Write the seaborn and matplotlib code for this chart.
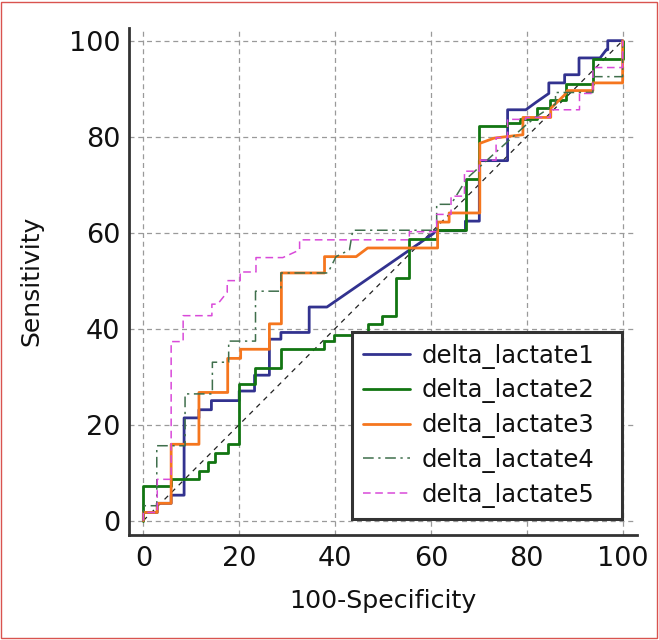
import matplotlib
matplotlib.use("Agg")
import matplotlib.pyplot as plt
from matplotlib.patches import Rectangle
from matplotlib.ticker import MultipleLocator
import seaborn as sns

# ROC step curves (vertices)
series_names = ["delta_lactate1", "delta_lactate2", "delta_lactate3",
                "delta_lactate4", "delta_lactate5"]

x1 = [0, 0, 2.9, 2.9, 5.8, 5.8, 8.5, 8.5, 11.6, 11.6, 14.2, 14.2, 20.0, 20.0, 23.2,
      23.2, 26.3, 26.3, 28.7, 28.7, 34.6, 34.6, 38.3, 60.5, 61.0, 67.2, 67.2, 70.1,
      70.1, 76.0, 76.0, 79.8, 82.0, 84.6, 84.6, 87.9, 87.9, 90.9, 90.9, 93.9, 93.9,
      95.3, 96.6, 96.9, 96.9, 100, 100]
y1 = [0, 1.7, 1.7, 3.6, 3.6, 5.3, 5.3, 21.4, 21.4, 23.1, 23.1, 25.0, 25.0, 27.0, 27.0,
      30.3, 30.3, 37.8, 37.8, 39.2, 39.2, 44.5, 44.5, 59.8, 60.4, 60.4, 62.4, 62.4,
      75.0, 75.0, 85.6, 85.6, 87.2, 89.0, 91.2, 91.2, 92.9, 92.9, 96.4, 96.4, 96.4,
      96.4, 98.1, 98.1, 100, 100, 100]

x2 = [0, 0, 5.8, 5.8, 11.7, 11.7, 13.4, 13.4, 14.9, 14.9, 17.7, 17.7, 20.0, 20.0,
      23.2, 23.2, 28.8, 28.8, 37.7, 37.7, 39.8, 39.8, 43.5, 43.5, 46.8, 46.8, 49.8,
      49.8, 52.7, 52.7, 55.5, 55.5, 61.2, 61.2, 67.3, 67.3, 70.1, 70.1, 75.8, 75.8,
      78.5, 78.5, 82.2, 82.2, 84.9, 84.9, 88.2, 88.2, 93.9, 93.9, 100, 100]
y2 = [0, 7.2, 7.2, 8.6, 8.6, 10.3, 10.3, 12.3, 12.3, 14.1, 14.1, 15.9, 15.9, 28.5,
      28.5, 31.8, 31.8, 35.8, 35.8, 37.4, 37.4, 38.6, 38.6, 39.3, 39.3, 40.9, 40.9,
      42.7, 42.7, 50.5, 50.5, 58.6, 58.6, 60.6, 60.6, 71.2, 71.2, 82.2, 82.2, 82.9,
      82.9, 83.6, 83.6, 86.0, 86.0, 87.6, 87.6, 90.9, 90.9, 96.2, 96.2, 100]

x3 = [0, 0, 2.9, 2.9, 5.8, 5.8, 11.6, 11.6, 17.6, 17.6, 20.3, 20.3, 26.3, 26.3,
      28.8, 28.8, 37.8, 37.8, 44.4, 46.8, 61.4, 61.4, 63.8, 63.8, 70.2, 70.2, 73.2,
      79.2, 79.2, 85.0, 85.0, 87.9, 88.5, 93.8, 93.8, 100, 100]
y3 = [0, 1.7, 1.7, 3.6, 3.6, 15.9, 15.9, 26.7, 26.7, 33.8, 33.8, 35.7, 35.7, 41.0,
      41.0, 51.6, 51.6, 55.0, 55.0, 56.8, 56.8, 62.2, 62.2, 64.1, 64.1, 78.6, 79.7,
      80.4, 84.0, 84.0, 85.9, 88.7, 89.6, 89.6, 91.2, 91.2, 100]

x4 = [0, 0, 2.8, 2.8, 8.7, 8.7, 14.4, 14.4, 17.8, 17.8, 23.4, 23.4, 28.7, 28.7,
      38.5, 40.2, 43.0, 43.7, 61.2, 61.2, 64.2, 67.5, 79.8, 82.2, 86.0, 86.0, 93.8,
      93.8, 100, 100]
y4 = [0, 3.1, 3.1, 15.6, 15.6, 26.4, 26.4, 33.0, 33.0, 37.4, 37.4, 47.8, 47.8, 51.6,
      51.6, 55.0, 56.4, 60.5, 60.5, 65.9, 65.9, 71.3, 82.4, 84.3, 86.8, 89.2, 89.2,
      92.5, 92.5, 100]

x5 = [0, 0, 2.9, 2.9, 5.8, 5.8, 8.3, 8.3, 14.3, 14.3, 15.5, 17.5, 17.5, 20.2, 20.2,
      23.5, 23.5, 29.1, 32.6, 32.6, 55.5, 55.5, 61.2, 61.2, 64.2, 64.2, 67.0, 67.0,
      70.1, 70.1, 73.6, 73.6, 76.0, 76.0, 79.8, 79.8, 84.9, 84.9, 91.0, 91.0, 93.8,
      93.8, 100, 100]
y5 = [0, 1.7, 1.7, 8.6, 8.6, 37.3, 37.3, 42.7, 42.7, 45.1, 45.1, 47.6, 50.0, 50.0,
      51.8, 51.8, 54.8, 54.8, 56.4, 58.5, 58.5, 60.2, 60.2, 63.8, 63.8, 67.6, 67.6,
      72.8, 72.8, 75.1, 75.1, 79.8, 79.8, 83.6, 83.6, 84.0, 84.0, 85.6, 85.6, 89.0,
      89.0, 94.4, 94.4, 100]

diag_x = [0, 100]
diag_y = [0, 100]

x_ticks = [0, 20, 40, 60, 80, 100]
y_ticks = [0, 20, 40, 60, 80, 100]

colors = ["#32328f", "#127512", "#f5761e", "#3f6f4c", "#d94ad9"]
styles = ["-", "-", "-", (0, (7, 3, 1.5, 3)), (0, (5, 3))]
widths = [2.0, 2.0, 2.0, 1.1, 1.1]

sns.set_style("white")
plt.rcParams["font.family"] = ["DejaVu Sans"]
plt.rcParams["text.color"] = "#111111"

fig = plt.figure(figsize=(6.59, 6.40), dpi=100)
ax = fig.add_axes([128.5 / 659, 1 - 535 / 640, (637 - 128.5) / 659, (535 - 27.7) / 640])

ax.grid(True, which="major", color="#9a9a9a", linestyle=(0, (4, 3)), linewidth=0.9)
ax.set_axisbelow(True)

sns.lineplot(x=diag_x, y=diag_y, ax=ax, color="#222222", linewidth=0.9,
             linestyle=(0, (4, 4)), sort=False, estimator=None, zorder=2)

all_x = [x1, x2, x3, x4, x5]
all_y = [y1, y2, y3, y4, y5]
for xs, ys, name, c, ls, lw in zip(all_x, all_y, series_names, colors, styles, widths):
    sns.lineplot(x=xs, y=ys, ax=ax, color=c, linestyle=ls, linewidth=lw,
                 sort=False, estimator=None, label=name, zorder=3)

ax.set_xlim(-3.1, 103.0)
ax.set_ylim(-3.0, 102.7)
ax.set_xticks(x_ticks)
ax.set_yticks(y_ticks)
ax.xaxis.set_minor_locator(MultipleLocator(5))
ax.yaxis.set_minor_locator(MultipleLocator(5))
ax.tick_params(which="major", direction="in", length=10, width=1.8, color="#333333",
               labelsize=19.5, pad=6, labelcolor="#111111")
ax.tick_params(which="minor", direction="in", length=4.5, width=1.0, color="#333333")
ax.tick_params(axis="x", which="major", pad=8)

for s in ["top", "right"]:
    ax.spines[s].set_visible(False)
for s in ["left", "bottom"]:
    ax.spines[s].set_color("#333333")
    ax.spines[s].set_linewidth(2.0)

ax.set_xlabel("100-Specificity", fontsize=18.2, labelpad=12, color="#111111")
ax.set_ylabel("Sensitivity", fontsize=18.0, labelpad=18, color="#111111")

leg = ax.legend(loc="lower left", bbox_to_anchor=(0.4395, 0.0315, 0.531, 0.3685),
                mode="expand", fontsize=17.5, frameon=True, fancybox=False,
                handlelength=1.93, handletextpad=0.45, labelspacing=0.4,
                borderpad=0.47, borderaxespad=0)
leg.get_frame().set_edgecolor("#333333")
leg.get_frame().set_linewidth(2.2)
leg.get_frame().set_facecolor("white")
leg.get_frame().set_alpha(1)
for t in leg.get_texts():
    t.set_color("#111111")

fig.add_artist(Rectangle((0.002, 0.003), 0.995, 0.994, transform=fig.transFigure,
                         fill=False, edgecolor="#d9534f", linewidth=1.0))

fig.savefig("out.png", dpi=100)
